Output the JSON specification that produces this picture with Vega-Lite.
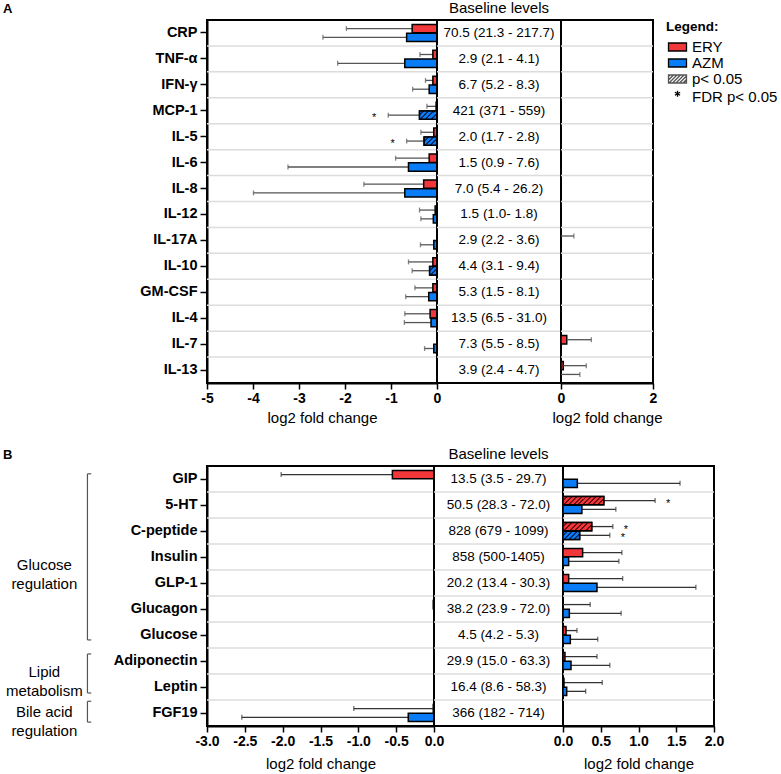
{
  "$schema": "https://vega.github.io/schema/vega-lite/v6.json",
  "padding": {"left": 2, "top": 0, "right": 0, "bottom": 2},
  "config": {
    "font": "Liberation Sans",
    "view": {"stroke": "black", "strokeWidth": 2},
    "axis": {"labelFontWeight": "bold", "labelColor": "black", "labelFontSize": 14, "tickColor": "black", "domainColor": "black", "domainWidth": 2, "tickWidth": 1.5, "tickSize": 6, "titleFontWeight": "normal", "titleFontSize": 15, "titleColor": "black", "grid": false, "labelFlush": false, "labelOverlap": false, "labelBound": false, "titlePadding": 5, "labelPadding": 2, "labelExpr": "replace(datum.label, '−', '-')"},
    "title": {"fontSize": 15, "fontWeight": "normal", "color": "black", "offset": 4},
    "text": {"color": "black"}
  },
  "datasets": {
    "cyto": [
      {"marker": "CRP", "drug": "ERY", "value": -0.54, "hi": -1.97, "sig": 0, "fdr": 0},
      {"marker": "CRP", "drug": "AZM", "value": -0.66, "hi": -2.48, "sig": 0, "fdr": 0},
      {"marker": "TNF-α", "drug": "ERY", "value": -0.09, "hi": -0.37, "sig": 0, "fdr": 0},
      {"marker": "TNF-α", "drug": "AZM", "value": -0.70, "hi": -2.16, "sig": 0, "fdr": 0},
      {"marker": "IFN-γ", "drug": "ERY", "value": -0.09, "hi": -0.25, "sig": 0, "fdr": 0},
      {"marker": "IFN-γ", "drug": "AZM", "value": -0.17, "hi": -0.53, "sig": 0, "fdr": 0},
      {"marker": "MCP-1", "drug": "ERY", "value": -0.02, "hi": -0.22, "sig": 0, "fdr": 0},
      {"marker": "MCP-1", "drug": "AZM", "value": -0.38, "hi": -1.06, "sig": 1, "fdr": 1},
      {"marker": "IL-5", "drug": "ERY", "value": -0.07, "hi": -0.35, "sig": 0, "fdr": 0},
      {"marker": "IL-5", "drug": "AZM", "value": -0.28, "hi": -0.66, "sig": 1, "fdr": 1},
      {"marker": "IL-6", "drug": "ERY", "value": -0.17, "hi": -0.90, "sig": 0, "fdr": 0},
      {"marker": "IL-6", "drug": "AZM", "value": -0.62, "hi": -3.24, "sig": 0, "fdr": 0},
      {"marker": "IL-8", "drug": "ERY", "value": -0.29, "hi": -1.59, "sig": 0, "fdr": 0},
      {"marker": "IL-8", "drug": "AZM", "value": -0.70, "hi": -3.99, "sig": 0, "fdr": 0},
      {"marker": "IL-12", "drug": "ERY", "value": -0.04, "hi": -0.38, "sig": 0, "fdr": 0},
      {"marker": "IL-12", "drug": "AZM", "value": -0.08, "hi": -0.35, "sig": 0, "fdr": 0},
      {"marker": "IL-17A", "drug": "ERY", "value": 0, "hi": 0.28, "sig": 0, "fdr": 0},
      {"marker": "IL-17A", "drug": "AZM", "value": -0.07, "hi": -0.36, "sig": 0, "fdr": 0},
      {"marker": "IL-10", "drug": "ERY", "value": -0.09, "hi": -0.62, "sig": 0, "fdr": 0},
      {"marker": "IL-10", "drug": "AZM", "value": -0.16, "hi": -0.54, "sig": 1, "fdr": 0},
      {"marker": "GM-CSF", "drug": "ERY", "value": -0.09, "hi": -0.48, "sig": 0, "fdr": 0},
      {"marker": "GM-CSF", "drug": "AZM", "value": -0.18, "hi": -0.68, "sig": 0, "fdr": 0},
      {"marker": "IL-4", "drug": "ERY", "value": -0.15, "hi": -0.70, "sig": 0, "fdr": 0},
      {"marker": "IL-4", "drug": "AZM", "value": -0.13, "hi": -0.71, "sig": 0, "fdr": 0},
      {"marker": "IL-7", "drug": "ERY", "value": 0.125, "hi": 0.66, "sig": 0, "fdr": 0},
      {"marker": "IL-7", "drug": "AZM", "value": -0.07, "hi": -0.27, "sig": 0, "fdr": 0},
      {"marker": "IL-13", "drug": "ERY", "value": 0.05, "hi": 0.55, "sig": 0, "fdr": 0},
      {"marker": "IL-13", "drug": "AZM", "value": 0, "hi": 0.41, "sig": 0, "fdr": 0}
    ],
    "cytoBase": [
      {"marker": "CRP", "base": "70.5 (21.3 - 217.7)"},
      {"marker": "TNF-α", "base": "2.9 (2.1 - 4.1)"},
      {"marker": "IFN-γ", "base": "6.7 (5.2 - 8.3)"},
      {"marker": "MCP-1", "base": "421 (371 - 559)"},
      {"marker": "IL-5", "base": "2.0 (1.7 - 2.8)"},
      {"marker": "IL-6", "base": "1.5 (0.9 - 7.6)"},
      {"marker": "IL-8", "base": "7.0 (5.4 - 26.2)"},
      {"marker": "IL-12", "base": "1.5 (1.0- 1.8)"},
      {"marker": "IL-17A", "base": "2.9 (2.2 - 3.6)"},
      {"marker": "IL-10", "base": "4.4 (3.1 - 9.4)"},
      {"marker": "GM-CSF", "base": "5.3 (1.5 - 8.1)"},
      {"marker": "IL-4", "base": "13.5 (6.5 - 31.0)"},
      {"marker": "IL-7", "base": "7.3 (5.5 - 8.5)"},
      {"marker": "IL-13", "base": "3.9 (2.4 - 4.7)"}
    ],
    "metab": [
      {"marker": "GIP", "drug": "ERY", "value": -0.55, "hi": -2.02, "sig": 0, "fdr": 0},
      {"marker": "GIP", "drug": "AZM", "value": 0.19, "hi": 1.55, "sig": 0, "fdr": 0},
      {"marker": "5-HT", "drug": "ERY", "value": 0.54, "hi": 1.22, "sig": 1, "fdr": 1},
      {"marker": "5-HT", "drug": "AZM", "value": 0.25, "hi": 0.70, "sig": 0, "fdr": 0},
      {"marker": "C-peptide", "drug": "ERY", "value": 0.38, "hi": 0.66, "sig": 1, "fdr": 1},
      {"marker": "C-peptide", "drug": "AZM", "value": 0.22, "hi": 0.62, "sig": 1, "fdr": 1},
      {"marker": "Insulin", "drug": "ERY", "value": 0.26, "hi": 0.78, "sig": 0, "fdr": 0},
      {"marker": "Insulin", "drug": "AZM", "value": 0.075, "hi": 0.74, "sig": 0, "fdr": 0},
      {"marker": "GLP-1", "drug": "ERY", "value": 0.075, "hi": 0.79, "sig": 0, "fdr": 0},
      {"marker": "GLP-1", "drug": "AZM", "value": 0.45, "hi": 1.76, "sig": 0, "fdr": 0},
      {"marker": "Glucagon", "drug": "ERY", "value": -0.01, "hi": 0.36, "sig": 0, "fdr": 0},
      {"marker": "Glucagon", "drug": "AZM", "value": 0.084, "hi": 0.77, "sig": 0, "fdr": 0},
      {"marker": "Glucose", "drug": "ERY", "value": 0.04, "hi": 0.185, "sig": 0, "fdr": 0},
      {"marker": "Glucose", "drug": "AZM", "value": 0.097, "hi": 0.46, "sig": 0, "fdr": 0},
      {"marker": "Adiponectin", "drug": "ERY", "value": 0.026, "hi": 0.45, "sig": 0, "fdr": 0},
      {"marker": "Adiponectin", "drug": "AZM", "value": 0.106, "hi": 0.62, "sig": 0, "fdr": 0},
      {"marker": "Leptin", "drug": "ERY", "value": 0.013, "hi": 0.52, "sig": 0, "fdr": 0},
      {"marker": "Leptin", "drug": "AZM", "value": 0.049, "hi": 0.30, "sig": 0, "fdr": 0},
      {"marker": "FGF19", "drug": "ERY", "value": -0.01, "hi": -1.06, "sig": 0, "fdr": 0},
      {"marker": "FGF19", "drug": "AZM", "value": -0.34, "hi": -2.54, "sig": 0, "fdr": 0}
    ],
    "metabBase": [
      {"marker": "GIP", "base": "13.5 (3.5 - 29.7)"},
      {"marker": "5-HT", "base": "50.5 (28.3 - 72.0)"},
      {"marker": "C-peptide", "base": "828 (679 - 1099)"},
      {"marker": "Insulin", "base": "858 (500-1405)"},
      {"marker": "GLP-1", "base": "20.2 (13.4 - 30.3)"},
      {"marker": "Glucagon", "base": "38.2 (23.9 - 72.0)"},
      {"marker": "Glucose", "base": "4.5 (4.2 - 5.3)"},
      {"marker": "Adiponectin", "base": "29.9 (15.0 - 63.3)"},
      {"marker": "Leptin", "base": "16.4 (8.6 - 58.3)"},
      {"marker": "FGF19", "base": "366 (182 - 714)"}
    ],
    "groups": [
      {"label": ["Glucose", "regulation"], "start": 0.3, "end": 6.69, "mid": 3.8},
      {"label": ["Lipid", "metabolism"], "start": 7.23, "end": 8.73, "mid": 7.94},
      {"label": ["Bile acid", "regulation"], "start": 9.05, "end": 9.85, "mid": 9.45}
    ],
    "legendItems": [
      {"item": "ERY"}, {"item": "AZM"}, {"item": "p< 0.05"}, {"item": "FDR p< 0.05"}
    ]
  },
  "resolve": {"scale": {"color": "independent", "shape": "independent", "fill": "independent", "stroke": "independent"}},
  "spacing": 20,
  "vconcat": [
    {
      "hconcat": [
        {
          "width": 230, "height": 363,
          "title": {"text": "A", "anchor": "start", "frame": "group", "dx": -204, "fontSize": 13, "fontWeight": "bold"},
          "data": {"name": "cyto"},
          "layer": [
            {"data": {"name": "cytoBase"}, "transform": [{"filter": "datum.marker !== 'CRP'"}],
             "mark": {"type": "rule", "color": "#dcdcdc", "strokeWidth": 1.5},
             "encoding": {"y": {"field": "marker", "type": "nominal", "sort": null, "bandPosition": 0, "title": null,
               "scale": {"domain": ["CRP","TNF-α","IFN-γ","MCP-1","IL-5","IL-6","IL-8","IL-12","IL-17A","IL-10","GM-CSF","IL-4","IL-7","IL-13"], "paddingInner": 0, "paddingOuter": 0},
               "axis": {"labelFontSize": 14.5, "tickSize": 7, "labelPadding": 3}}}},
            {"transform": [{"filter": "datum.hi < 0"}],
             "mark": {"type": "rule", "color": "#555", "strokeWidth": 1.3},
             "encoding": {
               "y": {"field": "marker", "type": "nominal", "sort": null, "title": null,
                 "scale": {"domain": ["CRP","TNF-α","IFN-γ","MCP-1","IL-5","IL-6","IL-8","IL-12","IL-17A","IL-10","GM-CSF","IL-4","IL-7","IL-13"], "paddingInner": 0, "paddingOuter": 0},
                 "axis": {"labelFontSize": 14.5, "tickSize": 7, "labelPadding": 3}},
               "x": {"field": "value", "type": "quantitative", "scale": {"domain": [-5, 0], "nice": false}, "axis": {"values": [-5,-4,-3,-2,-1,0], "tickCount": 20, "format": "d", "title": "log2 fold change"}},
               "x2": {"field": "hi"},
               "yOffset": {"field": "drug", "type": "nominal", "scale": {"domain": ["ERY","AZM"], "paddingInner": 0.05, "paddingOuter": 0.5}}}},
            {"transform": [{"filter": "datum.hi < 0"}],
             "mark": {"type": "tick", "color": "#555", "thickness": 1.3, "size": 5, "orient": "vertical"},
             "encoding": {"y": {"field": "marker", "type": "nominal", "sort": null},
               "x": {"field": "hi", "type": "quantitative"},
               "yOffset": {"field": "drug", "type": "nominal"}}},
            {"transform": [{"filter": "datum.value < 0"}],
             "mark": {"type": "bar", "stroke": "black", "strokeWidth": 1.5},
             "encoding": {"y": {"field": "marker", "type": "nominal", "sort": null},
               "x": {"field": "value", "type": "quantitative"},
               "yOffset": {"field": "drug", "type": "nominal"},
               "fill": {"field": "drug", "type": "nominal", "scale": {"domain": ["ERY","AZM"], "range": ["#F2373B","#0A7CF5"]}, "legend": null}}},
            {"transform": [{"filter": "datum.marker === 'MCP-1' && datum.drug === 'AZM'"}],
             "mark": {"type": "bar", "stroke": "black", "strokeWidth": 1.5,
               "fill": {"gradient": "linear", "x1": 0, "y1": 0, "x2": 1.203, "y2": 0.577, "stops": [
                 {"offset": 0, "color": "#0A7CF5"}, {"offset": 0.12, "color": "#0A7CF5"}, {"offset": 0.12, "color": "#0B2A66"}, {"offset": 0.2, "color": "#0B2A66"},
                 {"offset": 0.2, "color": "#0A7CF5"}, {"offset": 0.32, "color": "#0A7CF5"}, {"offset": 0.32, "color": "#0B2A66"}, {"offset": 0.4, "color": "#0B2A66"},
                 {"offset": 0.4, "color": "#0A7CF5"}, {"offset": 0.52, "color": "#0A7CF5"}, {"offset": 0.52, "color": "#0B2A66"}, {"offset": 0.6, "color": "#0B2A66"},
                 {"offset": 0.6, "color": "#0A7CF5"}, {"offset": 0.72, "color": "#0A7CF5"}, {"offset": 0.72, "color": "#0B2A66"}, {"offset": 0.8, "color": "#0B2A66"},
                 {"offset": 0.8, "color": "#0A7CF5"}, {"offset": 0.92, "color": "#0A7CF5"}, {"offset": 0.92, "color": "#0B2A66"}, {"offset": 1, "color": "#0B2A66"}]}},
             "encoding": {"y": {"field": "marker", "type": "nominal", "sort": null},
               "x": {"field": "value", "type": "quantitative"},
               "yOffset": {"field": "drug", "type": "nominal"}}},
            {"transform": [{"filter": "datum.marker === 'IL-5' && datum.drug === 'AZM'"}],
             "mark": {"type": "bar", "stroke": "black", "strokeWidth": 1.5,
               "fill": {"gradient": "linear", "x1": 0, "y1": 0, "x2": 1.16, "y2": 0.754, "stops": [
                 {"offset": 0, "color": "#0A7CF5"}, {"offset": 0.15, "color": "#0A7CF5"}, {"offset": 0.15, "color": "#0B2A66"}, {"offset": 0.25, "color": "#0B2A66"},
                 {"offset": 0.25, "color": "#0A7CF5"}, {"offset": 0.4, "color": "#0A7CF5"}, {"offset": 0.4, "color": "#0B2A66"}, {"offset": 0.5, "color": "#0B2A66"},
                 {"offset": 0.5, "color": "#0A7CF5"}, {"offset": 0.65, "color": "#0A7CF5"}, {"offset": 0.65, "color": "#0B2A66"}, {"offset": 0.75, "color": "#0B2A66"},
                 {"offset": 0.75, "color": "#0A7CF5"}, {"offset": 0.9, "color": "#0A7CF5"}, {"offset": 0.9, "color": "#0B2A66"}, {"offset": 1, "color": "#0B2A66"}]}},
             "encoding": {"y": {"field": "marker", "type": "nominal", "sort": null},
               "x": {"field": "value", "type": "quantitative"},
               "yOffset": {"field": "drug", "type": "nominal"}}},
            {"transform": [{"filter": "datum.marker === 'IL-10' && datum.drug === 'AZM'"}],
             "mark": {"type": "bar", "stroke": "black", "strokeWidth": 1.5,
               "fill": {"gradient": "linear", "x1": 0, "y1": 0, "x2": 0.93, "y2": 1.06, "stops": [
                 {"offset": 0, "color": "#0A7CF5"}, {"offset": 0.2, "color": "#0A7CF5"}, {"offset": 0.2, "color": "#0B2A66"}, {"offset": 0.3333, "color": "#0B2A66"},
                 {"offset": 0.3333, "color": "#0A7CF5"}, {"offset": 0.5333, "color": "#0A7CF5"}, {"offset": 0.5333, "color": "#0B2A66"}, {"offset": 0.6667, "color": "#0B2A66"},
                 {"offset": 0.6667, "color": "#0A7CF5"}, {"offset": 0.8667, "color": "#0A7CF5"}, {"offset": 0.8667, "color": "#0B2A66"}, {"offset": 1, "color": "#0B2A66"}]}},
             "encoding": {"y": {"field": "marker", "type": "nominal", "sort": null},
               "x": {"field": "value", "type": "quantitative"},
               "yOffset": {"field": "drug", "type": "nominal"}}},
            {"transform": [{"filter": "datum.fdr == 1 && datum.hi < 0"}],
             "mark": {"type": "text", "text": "*", "fontSize": 11, "dx": -14, "dy": 3, "baseline": "middle", "align": "center"},
             "encoding": {"y": {"field": "marker", "type": "nominal", "sort": null},
               "x": {"field": "hi", "type": "quantitative"},
               "yOffset": {"field": "drug", "type": "nominal"}}}
          ]
        },
        {
          "width": 124, "height": 363,
          "title": {"text": "Baseline levels"},
          "data": {"name": "cytoBase"},
          "layer": [
            {"transform": [{"filter": "datum.marker !== 'CRP'"}],
             "mark": {"type": "rule", "color": "#dcdcdc", "strokeWidth": 1.5},
             "encoding": {"y": {"field": "marker", "type": "nominal", "sort": null, "bandPosition": 0, "axis": null,
               "scale": {"domain": ["CRP","TNF-α","IFN-γ","MCP-1","IL-5","IL-6","IL-8","IL-12","IL-17A","IL-10","GM-CSF","IL-4","IL-7","IL-13"], "paddingInner": 0, "paddingOuter": 0}}}},
            {"mark": {"type": "text", "fontSize": 13.5},
             "encoding": {"y": {"field": "marker", "type": "nominal", "sort": null, "axis": null}, "text": {"field": "base"}}},
            {"data": {"name": "legendItems"},
             "mark": {"type": "point", "filled": true, "clip": true, "strokeWidth": 1.3},
             "encoding": {
               "x": {"datum": -1, "type": "quantitative", "scale": {"domain": [0, 1]}, "axis": null},
               "color": {"field": "item", "type": "nominal",
                 "scale": {"domain": ["ERY","AZM","p< 0.05","FDR p< 0.05"], "range": ["#F2373B","#0A7CF5","#ffffff","#000000"]},
                 "legend": {"title": "Legend:", "orient": "right", "offset": 2, "titleFontSize": 13.5, "titleFontWeight": "bold", "titleColor": "black", "titlePadding": 6, "labelFontSize": 15, "labelColor": "black", "symbolSize": 100, "labelOffset": 11, "rowPadding": 0, "symbolStrokeWidth": 1.3, "symbolOpacity": 1}},
               "stroke": {"field": "item", "type": "nominal",
                 "scale": {"domain": ["ERY","AZM","p< 0.05","FDR p< 0.05"], "range": ["#000000","#000000","#555555","#000000"]},
                 "legend": {"title": "Legend:", "orient": "right", "offset": 2, "titleFontSize": 13.5, "titleFontWeight": "bold", "titleColor": "black", "titlePadding": 6, "labelFontSize": 15, "labelColor": "black", "symbolSize": 100, "labelOffset": 11, "rowPadding": 0, "symbolStrokeWidth": 1.3, "symbolOpacity": 1}},
               "shape": {"field": "item", "type": "nominal",
                 "scale": {"domain": ["ERY","AZM","p< 0.05","FDR p< 0.05"], "range": [
                   "M-1,-0.8H2.6V0.8H-1Z",
                   "M-1,-0.8H2.6V0.8H-1Z",
                   "M-1,-0.8H2.6V0.8H-1Z M-1,-0.5L-0.7,-0.8 M-1,0.2L0,-0.8 M-0.9,0.8L0.7,-0.8 M-0.2,0.8L1.4,-0.8 M0.5,0.8L2.1,-0.8 M1.2,0.8L2.6,-0.6 M1.9,0.8L2.6,0.1",
                   "M0.8,-1.25V-0.05 M0.28,-0.95L1.32,-0.35 M0.28,-0.35L1.32,-0.95"]},
                 "legend": {"title": "Legend:", "orient": "right", "offset": 2, "titleFontSize": 13.5, "titleFontWeight": "bold", "titleColor": "black", "titlePadding": 6, "labelFontSize": 15, "labelColor": "black", "symbolSize": 100, "labelOffset": 11, "rowPadding": 0, "symbolStrokeWidth": 1.3, "symbolOpacity": 1}}}}
          ]
        },
        {
          "width": 92, "height": 363,
          "data": {"name": "cyto"},
          "layer": [
            {"data": {"name": "cytoBase"}, "transform": [{"filter": "datum.marker !== 'CRP'"}],
             "mark": {"type": "rule", "color": "#dcdcdc", "strokeWidth": 1.5},
             "encoding": {"y": {"field": "marker", "type": "nominal", "sort": null, "bandPosition": 0, "axis": null,
               "scale": {"domain": ["CRP","TNF-α","IFN-γ","MCP-1","IL-5","IL-6","IL-8","IL-12","IL-17A","IL-10","GM-CSF","IL-4","IL-7","IL-13"], "paddingInner": 0, "paddingOuter": 0}}}},
            {"transform": [{"filter": "datum.value > 0"}],
             "mark": {"type": "bar", "stroke": "black", "strokeWidth": 1.5},
             "encoding": {"y": {"field": "marker", "type": "nominal", "sort": null, "axis": null},
               "x": {"field": "value", "type": "quantitative", "scale": {"domain": [0, 2], "nice": false},
                 "axis": {"values": [0, 1, 2], "tickCount": 20, "format": "d", "labelExpr": "format(datum.value, 'd')", "labelOverlap": false, "labelBound": false, "labelFlush": false, "labelSeparation": 0, "zindex": 1, "title": "log2 fold change"}},
               "yOffset": {"field": "drug", "type": "nominal", "scale": {"domain": ["ERY","AZM"], "paddingInner": 0.05, "paddingOuter": 0.5}},
               "fill": {"field": "drug", "type": "nominal", "scale": {"domain": ["ERY","AZM"], "range": ["#F2373B","#0A7CF5"]}, "legend": null}}},
            {"transform": [{"filter": "datum.hi > 0"}],
             "mark": {"type": "rule", "color": "#555", "strokeWidth": 1.3, "clip": true},
             "encoding": {
               "y": {"field": "marker", "type": "nominal", "sort": null, "axis": null},
               "x": {"field": "value", "type": "quantitative"},
               "x2": {"field": "hi"},
               "yOffset": {"field": "drug", "type": "nominal"}}},
            {"transform": [{"filter": "datum.hi > 0"}],
             "mark": {"type": "tick", "color": "#555", "thickness": 1.3, "size": 5, "orient": "vertical"},
             "encoding": {"y": {"field": "marker", "type": "nominal", "sort": null, "axis": null},
               "x": {"field": "hi", "type": "quantitative"},
               "yOffset": {"field": "drug", "type": "nominal"}}}
          ]
        }
      ],
      "spacing": 0,
      "bounds": "flush"
    },
    {
      "hconcat": [
        {
          "width": 227, "height": 260,
          "title": {"text": "B", "anchor": "start", "frame": "group", "dx": -204, "fontSize": 13, "fontWeight": "bold"},
          "resolve": {"scale": {"y": "independent"}},
          "layer": [
            {
              "data": {"name": "metab"},
              "layer": [
                {"data": {"name": "metabBase"}, "transform": [{"filter": "datum.marker !== 'GIP'"}],
                 "mark": {"type": "rule", "color": "#dcdcdc", "strokeWidth": 1.5},
                 "encoding": {"y": {"field": "marker", "type": "nominal", "sort": null, "bandPosition": 0, "title": null,
                   "scale": {"domain": ["GIP","5-HT","C-peptide","Insulin","GLP-1","Glucagon","Glucose","Adiponectin","Leptin","FGF19"], "paddingInner": 0, "paddingOuter": 0},
                   "axis": {"labelFontSize": 14.5, "tickSize": 7, "labelPadding": 3}}}},
                {"transform": [{"filter": "datum.hi < 0"}],
                 "mark": {"type": "rule", "color": "#333", "strokeWidth": 1.3},
                 "encoding": {
                   "y": {"field": "marker", "type": "nominal", "sort": null, "title": null,
                     "scale": {"domain": ["GIP","5-HT","C-peptide","Insulin","GLP-1","Glucagon","Glucose","Adiponectin","Leptin","FGF19"], "paddingInner": 0, "paddingOuter": 0},
                     "axis": {"labelFontSize": 14.5, "tickSize": 7, "labelPadding": 3}},
                   "x": {"field": "value", "type": "quantitative", "scale": {"domain": [-3, 0], "nice": false}, "axis": {"values": [-3,-2.5,-2,-1.5,-1,-0.5,0], "tickCount": 20, "format": ".1f", "title": "log2 fold change", "titlePadding": 8}},
                   "x2": {"field": "hi"},
                   "yOffset": {"field": "drug", "type": "nominal", "scale": {"domain": ["ERY","AZM"], "paddingInner": 0.05, "paddingOuter": 0.5}}}},
                {"transform": [{"filter": "datum.hi < 0"}],
                 "mark": {"type": "tick", "color": "#333", "thickness": 1.3, "size": 5, "orient": "vertical"},
                 "encoding": {"y": {"field": "marker", "type": "nominal", "sort": null},
                   "x": {"field": "hi", "type": "quantitative"},
                   "yOffset": {"field": "drug", "type": "nominal"}}},
                {"transform": [{"filter": "datum.value < 0"}],
                 "mark": {"type": "bar", "stroke": "black", "strokeWidth": 1.5},
                 "encoding": {"y": {"field": "marker", "type": "nominal", "sort": null},
                   "x": {"field": "value", "type": "quantitative"},
                   "yOffset": {"field": "drug", "type": "nominal"},
                   "fill": {"field": "drug", "type": "nominal", "scale": {"domain": ["ERY","AZM"], "range": ["#F2373B","#0A7CF5"]}, "legend": null}}}
              ]
            },
            {
              "data": {"name": "groups"},
              "layer": [
                {"mark": {"type": "rule", "color": "#555", "strokeWidth": 1.2},
                 "encoding": {"x": {"datum": -4.58, "type": "quantitative"},
                   "y": {"field": "start", "type": "quantitative", "scale": {"domain": [0, 10], "reverse": true, "nice": false, "zero": false}, "axis": null},
                   "y2": {"field": "end"}}},
                {"mark": {"type": "rule", "color": "#555", "strokeWidth": 1.2},
                 "encoding": {"x": {"datum": -4.58, "type": "quantitative"}, "x2": {"datum": -4.53},
                   "y": {"field": "start", "type": "quantitative"}}},
                {"mark": {"type": "rule", "color": "#555", "strokeWidth": 1.2},
                 "encoding": {"x": {"datum": -4.58, "type": "quantitative"}, "x2": {"datum": -4.53},
                   "y": {"field": "end", "type": "quantitative"}}},
                {"mark": {"type": "text", "fontSize": 15, "lineHeight": 19, "baseline": "middle", "align": "center"},
                 "encoding": {"x": {"datum": -5.15, "type": "quantitative"},
                   "y": {"field": "mid", "type": "quantitative"},
                   "text": {"field": "label"}}}
              ]
            }
          ]
        },
        {
          "width": 129, "height": 260,
          "title": {"text": "Baseline levels"},
          "data": {"name": "metabBase"},
          "layer": [
            {"transform": [{"filter": "datum.marker !== 'GIP'"}],
             "mark": {"type": "rule", "color": "#dcdcdc", "strokeWidth": 1.5},
             "encoding": {"y": {"field": "marker", "type": "nominal", "sort": null, "bandPosition": 0, "axis": null,
               "scale": {"domain": ["GIP","5-HT","C-peptide","Insulin","GLP-1","Glucagon","Glucose","Adiponectin","Leptin","FGF19"], "paddingInner": 0, "paddingOuter": 0}}}},
            {"mark": {"type": "text", "fontSize": 13.5},
             "encoding": {"y": {"field": "marker", "type": "nominal", "sort": null, "axis": null}, "text": {"field": "base"}}}
          ]
        },
        {
          "width": 151, "height": 260,
          "data": {"name": "metab"},
          "layer": [
            {"data": {"name": "metabBase"}, "transform": [{"filter": "datum.marker !== 'GIP'"}],
             "mark": {"type": "rule", "color": "#dcdcdc", "strokeWidth": 1.5},
             "encoding": {"y": {"field": "marker", "type": "nominal", "sort": null, "bandPosition": 0, "axis": null,
               "scale": {"domain": ["GIP","5-HT","C-peptide","Insulin","GLP-1","Glucagon","Glucose","Adiponectin","Leptin","FGF19"], "paddingInner": 0, "paddingOuter": 0}}}},
            {"transform": [{"filter": "datum.hi > 0"}],
             "mark": {"type": "rule", "color": "#333", "strokeWidth": 1.3, "clip": true},
             "encoding": {
               "y": {"field": "marker", "type": "nominal", "sort": null, "axis": null},
               "x": {"field": "value", "type": "quantitative", "scale": {"domain": [0, 2], "nice": false}, "axis": {"values": [0,0.5,1,1.5,2], "tickCount": 20, "format": ".1f", "title": "log2 fold change", "titlePadding": 8}},
               "x2": {"field": "hi"},
               "yOffset": {"field": "drug", "type": "nominal", "scale": {"domain": ["ERY","AZM"], "paddingInner": 0.05, "paddingOuter": 0.5}}}},
            {"transform": [{"filter": "datum.hi > 0"}],
             "mark": {"type": "tick", "color": "#333", "thickness": 1.3, "size": 5, "orient": "vertical"},
             "encoding": {"y": {"field": "marker", "type": "nominal", "sort": null, "axis": null},
               "x": {"field": "hi", "type": "quantitative"},
               "yOffset": {"field": "drug", "type": "nominal"}}},
            {"transform": [{"filter": "datum.value > 0"}],
             "mark": {"type": "bar", "stroke": "black", "strokeWidth": 1.5},
             "encoding": {"y": {"field": "marker", "type": "nominal", "sort": null, "axis": null},
               "x": {"field": "value", "type": "quantitative"},
               "yOffset": {"field": "drug", "type": "nominal"},
               "fill": {"field": "drug", "type": "nominal", "scale": {"domain": ["ERY","AZM"], "range": ["#F2373B","#0A7CF5"]}, "legend": null}}},
            {"transform": [{"filter": "datum.marker === '5-HT' && datum.drug === 'ERY'"}],
             "mark": {"type": "bar", "stroke": "black", "strokeWidth": 1.5,
               "fill": {"gradient": "linear", "x1": 0, "y1": 0, "x2": 1.157, "y2": 0.238, "stops": [
                 {"offset": 0, "color": "#F2373B"}, {"offset": 0.06, "color": "#F2373B"}, {"offset": 0.06, "color": "#6A1215"}, {"offset": 0.1, "color": "#6A1215"},
                 {"offset": 0.1, "color": "#F2373B"}, {"offset": 0.16, "color": "#F2373B"}, {"offset": 0.16, "color": "#6A1215"}, {"offset": 0.2, "color": "#6A1215"},
                 {"offset": 0.2, "color": "#F2373B"}, {"offset": 0.26, "color": "#F2373B"}, {"offset": 0.26, "color": "#6A1215"}, {"offset": 0.3, "color": "#6A1215"},
                 {"offset": 0.3, "color": "#F2373B"}, {"offset": 0.36, "color": "#F2373B"}, {"offset": 0.36, "color": "#6A1215"}, {"offset": 0.4, "color": "#6A1215"},
                 {"offset": 0.4, "color": "#F2373B"}, {"offset": 0.46, "color": "#F2373B"}, {"offset": 0.46, "color": "#6A1215"}, {"offset": 0.5, "color": "#6A1215"},
                 {"offset": 0.5, "color": "#F2373B"}, {"offset": 0.56, "color": "#F2373B"}, {"offset": 0.56, "color": "#6A1215"}, {"offset": 0.6, "color": "#6A1215"},
                 {"offset": 0.6, "color": "#F2373B"}, {"offset": 0.66, "color": "#F2373B"}, {"offset": 0.66, "color": "#6A1215"}, {"offset": 0.7, "color": "#6A1215"},
                 {"offset": 0.7, "color": "#F2373B"}, {"offset": 0.76, "color": "#F2373B"}, {"offset": 0.76, "color": "#6A1215"}, {"offset": 0.8, "color": "#6A1215"},
                 {"offset": 0.8, "color": "#F2373B"}, {"offset": 0.86, "color": "#F2373B"}, {"offset": 0.86, "color": "#6A1215"}, {"offset": 0.9, "color": "#6A1215"},
                 {"offset": 0.9, "color": "#F2373B"}, {"offset": 0.96, "color": "#F2373B"}, {"offset": 0.96, "color": "#6A1215"}, {"offset": 1, "color": "#6A1215"}]}},
             "encoding": {"y": {"field": "marker", "type": "nominal", "sort": null, "axis": null},
               "x": {"field": "value", "type": "quantitative"},
               "yOffset": {"field": "drug", "type": "nominal"}}},
            {"transform": [{"filter": "datum.marker === 'C-peptide' && datum.drug === 'ERY'"}],
             "mark": {"type": "bar", "stroke": "black", "strokeWidth": 1.5,
               "fill": {"gradient": "linear", "x1": 0, "y1": 0, "x2": 1.19, "y2": 0.345, "stops": [
                 {"offset": 0, "color": "#F2373B"}, {"offset": 0.0857, "color": "#F2373B"}, {"offset": 0.0857, "color": "#6A1215"}, {"offset": 0.1429, "color": "#6A1215"},
                 {"offset": 0.1429, "color": "#F2373B"}, {"offset": 0.2286, "color": "#F2373B"}, {"offset": 0.2286, "color": "#6A1215"}, {"offset": 0.2857, "color": "#6A1215"},
                 {"offset": 0.2857, "color": "#F2373B"}, {"offset": 0.3714, "color": "#F2373B"}, {"offset": 0.3714, "color": "#6A1215"}, {"offset": 0.4286, "color": "#6A1215"},
                 {"offset": 0.4286, "color": "#F2373B"}, {"offset": 0.5143, "color": "#F2373B"}, {"offset": 0.5143, "color": "#6A1215"}, {"offset": 0.5714, "color": "#6A1215"},
                 {"offset": 0.5714, "color": "#F2373B"}, {"offset": 0.6571, "color": "#F2373B"}, {"offset": 0.6571, "color": "#6A1215"}, {"offset": 0.7143, "color": "#6A1215"},
                 {"offset": 0.7143, "color": "#F2373B"}, {"offset": 0.8, "color": "#F2373B"}, {"offset": 0.8, "color": "#6A1215"}, {"offset": 0.8571, "color": "#6A1215"},
                 {"offset": 0.8571, "color": "#F2373B"}, {"offset": 0.9429, "color": "#F2373B"}, {"offset": 0.9429, "color": "#6A1215"}, {"offset": 1, "color": "#6A1215"}]}},
             "encoding": {"y": {"field": "marker", "type": "nominal", "sort": null, "axis": null},
               "x": {"field": "value", "type": "quantitative"},
               "yOffset": {"field": "drug", "type": "nominal"}}},
            {"transform": [{"filter": "datum.marker === 'C-peptide' && datum.drug === 'AZM'"}],
             "mark": {"type": "bar", "stroke": "black", "strokeWidth": 1.5,
               "fill": {"gradient": "linear", "x1": 0, "y1": 0, "x2": 1.198, "y2": 0.611, "stops": [
                 {"offset": 0, "color": "#0A7CF5"}, {"offset": 0.12, "color": "#0A7CF5"}, {"offset": 0.12, "color": "#0B2A66"}, {"offset": 0.2, "color": "#0B2A66"},
                 {"offset": 0.2, "color": "#0A7CF5"}, {"offset": 0.32, "color": "#0A7CF5"}, {"offset": 0.32, "color": "#0B2A66"}, {"offset": 0.4, "color": "#0B2A66"},
                 {"offset": 0.4, "color": "#0A7CF5"}, {"offset": 0.52, "color": "#0A7CF5"}, {"offset": 0.52, "color": "#0B2A66"}, {"offset": 0.6, "color": "#0B2A66"},
                 {"offset": 0.6, "color": "#0A7CF5"}, {"offset": 0.72, "color": "#0A7CF5"}, {"offset": 0.72, "color": "#0B2A66"}, {"offset": 0.8, "color": "#0B2A66"},
                 {"offset": 0.8, "color": "#0A7CF5"}, {"offset": 0.92, "color": "#0A7CF5"}, {"offset": 0.92, "color": "#0B2A66"}, {"offset": 1, "color": "#0B2A66"}]}},
             "encoding": {"y": {"field": "marker", "type": "nominal", "sort": null, "axis": null},
               "x": {"field": "value", "type": "quantitative"},
               "yOffset": {"field": "drug", "type": "nominal"}}},
            {"transform": [{"filter": "datum.fdr == 1 && datum.hi > 0"}],
             "mark": {"type": "text", "text": "*", "fontSize": 11, "dx": 13, "dy": 3, "baseline": "middle", "align": "center"},
             "encoding": {"y": {"field": "marker", "type": "nominal", "sort": null, "axis": null},
               "x": {"field": "hi", "type": "quantitative"},
               "yOffset": {"field": "drug", "type": "nominal"}}}
          ]
        }
      ],
      "spacing": 0,
      "bounds": "flush"
    }
  ]
}
